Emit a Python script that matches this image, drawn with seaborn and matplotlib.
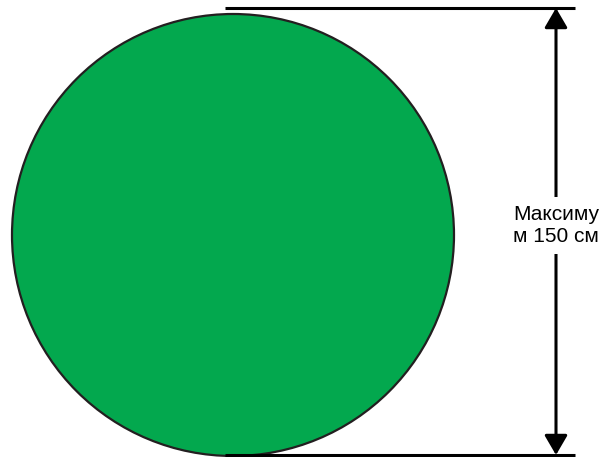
import matplotlib
matplotlib.use("Agg")
import matplotlib.pyplot as plt
from matplotlib.patches import Circle
import seaborn as sns

# data
diameter_cm = 150
label_lines = ["Максиму", "м 150 см"]
circle_color = "#03A84E"

# layout in pixel units (figure is 607 x 457)
W, H = 607, 457
cx, cy, r = 233, 235, 221
top_y, bottom_y = 8, 455
line_x0, line_x1 = 225, 575
arrow_x = 556

sns.set_style("white")
plt.rcParams["font.family"] = ["Liberation Sans", "DejaVu Sans"]

fig = plt.figure(figsize=(W / 100, H / 100), dpi=100)
ax = fig.add_axes([0, 0, 1, 1])
ax.set_xlim(0, W)
ax.set_ylim(H, 0)
ax.set_aspect("equal")
ax.axis("off")

ax.add_patch(Circle((cx, cy), r, facecolor=circle_color, edgecolor="#231F20", lw=1.6))

# extension lines
for y in (top_y, bottom_y):
    ax.plot([line_x0, line_x1], [y, y], color="black", lw=2.2, solid_capstyle="butt")

# dimension arrow
ax.annotate("", xy=(arrow_x, top_y), xytext=(arrow_x, bottom_y),
            arrowprops=dict(arrowstyle="<|-|>,head_length=1.2,head_width=0.7",
                            mutation_scale=10, color="black", lw=2.2,
                            shrinkA=0, shrinkB=0))

ax.text(arrow_x, (top_y + bottom_y) / 2 - 6, "\n".join(label_lines),
        ha="center", va="center", fontsize=15, linespacing=1.25, color="black",
        bbox=dict(boxstyle="square,pad=0.35", facecolor="white", edgecolor="none"))

fig.savefig("out.png", dpi=100)
